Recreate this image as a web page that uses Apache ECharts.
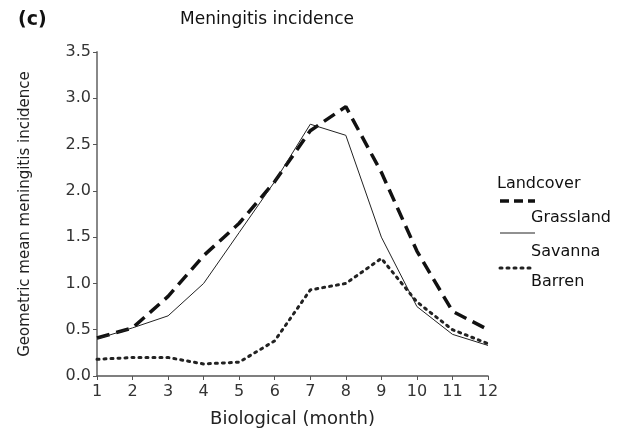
<!DOCTYPE html>
<html><head><meta charset="utf-8">
<script src="https://cdn.jsdelivr.net/npm/echarts@6/dist/echarts.min.js"></script>
<style>html,body{margin:0;padding:0;background:#fff}#c{width:632px;height:433px}</style>
</head><body><div id="c"></div>
<script>
var months = [1,2,3,4,5,6,7,8,9,10,11,12];
var grassland = [0.41,0.52,0.86,1.3,1.65,2.1,2.65,2.91,2.2,1.35,0.7,0.5];
var savanna = [0.4,0.52,0.65,1.0,1.55,2.1,2.72,2.6,1.5,0.75,0.45,0.33];
var barren = [0.18,0.2,0.2,0.13,0.15,0.38,0.93,1.0,1.27,0.8,0.5,0.35];
var seriesNames = ['Grassland','Savanna','Barren'];

function pairs(v){return months.map(function(m,i){return [m,v[i]];});}
var chart = echarts.init(document.getElementById('c'));
var font = 'DejaVu Sans, sans-serif';
chart.setOption({
  animation:false,
  grid:{left:97,right:144,top:52,bottom:57},
  xAxis:{type:'value',min:1,max:12,interval:1,
    name:'Biological (month)',nameLocation:'middle',nameGap:34,
    nameTextStyle:{fontSize:18,color:'#222',fontFamily:font},
    axisLine:{lineStyle:{color:'#555',width:1.5}},
    axisTick:{show:true,length:4,lineStyle:{color:'#555'}},
    axisLabel:{fontSize:16,color:'#333',fontFamily:font,margin:8},
    splitLine:{show:false}},
  yAxis:{type:'value',min:0,max:3.5,interval:0.5,
    name:'Geometric mean meningitis incidence',nameLocation:'middle',nameGap:64,
    nameTextStyle:{fontSize:15,color:'#222',fontFamily:font},
    axisLine:{show:true,lineStyle:{color:'#888',width:2}},
    axisTick:{show:true,length:4,lineStyle:{color:'#555'}},
    axisLabel:{fontSize:16,color:'#333',fontFamily:font,margin:6,formatter:function(v){return v.toFixed(1);}},
    splitLine:{show:false}},
  series:[
    {name:seriesNames[0],type:'line',data:pairs(grassland),symbol:'none',
      lineStyle:{color:'#111',width:3.5,type:[13,7]}},
    {name:seriesNames[1],type:'line',data:pairs(savanna),symbol:'none',
      lineStyle:{color:'#222',width:1}},
    {name:seriesNames[2],type:'line',data:pairs(barren),symbol:'none',
      lineStyle:{color:'#222',width:3,type:[2,5],cap:'round'}}
  ],
  graphic:[
    {type:'text',left:18,top:11,style:{text:'(c)',font:'bold 19px '+font,fill:'#111'}},
    {type:'text',left:180,top:11,style:{text:'Meningitis incidence',font:'17px '+font,fill:'#111'}},
    {type:'text',left:497,top:176,style:{text:'Landcover',font:'16px '+font,fill:'#111'}},
    {type:'line',shape:{x1:500,y1:201,x2:535,y2:201},style:{stroke:'#111',lineWidth:3.5,lineDash:[9,5]}},
    {type:'text',left:531,top:210,style:{text:seriesNames[0],font:'16px '+font,fill:'#111'}},
    {type:'line',shape:{x1:500,y1:233,x2:535,y2:233},style:{stroke:'#222',lineWidth:1}},
    {type:'text',left:531,top:244,style:{text:seriesNames[1],font:'16px '+font,fill:'#111'}},
    {type:'line',shape:{x1:500,y1:268,x2:535,y2:268},style:{stroke:'#222',lineWidth:3,lineDash:[2,5],lineCap:'round'}},
    {type:'text',left:531,top:274,style:{text:seriesNames[2],font:'16px '+font,fill:'#111'}}
  ]
});
</script></body></html>
